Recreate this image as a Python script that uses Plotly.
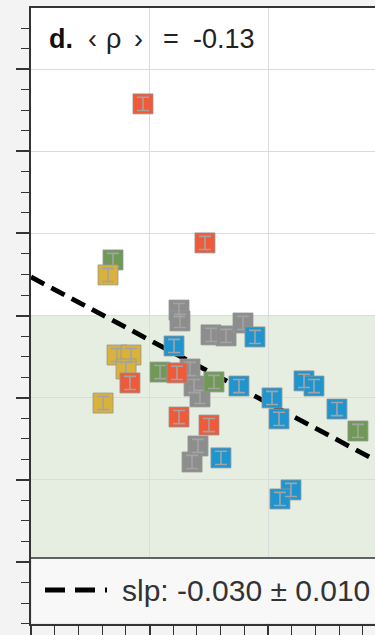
import plotly.graph_objects as go

# ---- data ----
red_x = [9.45, 14.68, 8.35, 12.32, 12.49, 15.02]
red_y = [2.231, 1.554, 0.872, 0.921, 0.706, 0.667]

green_x = [6.92, 10.89, 15.44, 27.59]
green_y = [1.471, 0.925, 0.877, 0.638]

yellow_x = [6.50, 7.26, 8.44, 8.02, 6.08]
yellow_y = [1.398, 1.008, 1.008, 0.940, 0.774]

gray_x = [12.49, 12.57, 15.19, 16.46, 17.89, 13.42, 13.76, 14.26, 14.09, 13.59]
gray_y = [1.227, 1.174, 1.106, 1.101, 1.164, 0.940, 0.857, 0.804, 0.565, 0.487]

blue_x = [18.90, 12.07, 17.55, 20.34, 20.93, 23.04, 23.88, 25.82, 16.03, 21.94, 21.01]
blue_y = [1.096, 1.052, 0.857, 0.799, 0.697, 0.882, 0.857, 0.745, 0.507, 0.351, 0.307]

err = 0.032  # half-height of the error bar drawn in each square

fit_x = [0.0, 29.03]
fit_y = [1.388, 0.497]

title_parts = ["<b>d.</b>", "‹", "ρ", "›", "=", "-0.13"]
title_pos = [0.046, 0.161, 0.213, 0.294, 0.378, 0.466]
legend_text = "slp: -0.030 ± 0.010"

x_range = [0, 29.03]
y_range = [-0.302, 2.698]
band_top = 1.2
legend_top = 0.0195

groups = [
    ("gray", gray_x, gray_y, "#8d8d8d"),
    ("green", green_x, green_y, "#6e9a56"),
    ("yellow", yellow_x, yellow_y, "#d8b23a"),
    ("red", red_x, red_y, "#ee5a3a"),
    ("blue", blue_x, blue_y, "#1f95d0"),
]

FONT = "Liberation Sans, Arial"

fig = go.Figure()

# regression line
fig.add_trace(go.Scatter(
    x=fit_x, y=fit_y, mode="lines",
    line=dict(color="black", width=4.8, dash="15px,8px"),
    showlegend=False, hoverinfo="skip"))

for name, xs, ys, col in groups:
    fig.add_trace(go.Scatter(
        x=xs, y=ys, mode="markers", name=name,
        marker=dict(symbol="square", size=20, color=col,
                    line=dict(color="rgba(150,150,150,0.8)", width=1)),
        showlegend=False))
    fig.add_trace(go.Scatter(
        x=xs, y=ys, mode="markers",
        marker=dict(size=1, opacity=0),
        error_y=dict(type="constant", value=err, color="#a3a3a3",
                     thickness=1.6, width=6),
        showlegend=False, hoverinfo="skip"))

# green band
fig.add_shape(type="rect", xref="x", yref="y", x0=x_range[0], x1=x_range[1],
              y0=y_range[0], y1=band_top, fillcolor="#e5eee1", line_width=0,
              layer="below")

# legend box
fig.add_shape(type="rect", xref="x", yref="y", x0=0.09, x1=x_range[1],
              y0=y_range[0] + 0.006, y1=legend_top, fillcolor="#f8f8f8",
              line_width=0, layer="above")
fig.add_shape(type="line", xref="x", yref="y", x0=0, x1=x_range[1],
              y0=legend_top, y1=legend_top, line=dict(color="#333333", width=1.5),
              layer="above")
fig.add_shape(type="line", xref="paper", yref="paper", x0=0.0407, x1=0.2209,
              y0=0.055, y1=0.055,
              line=dict(color="black", width=5, dash="20px,10px"),
              layer="above")
fig.add_annotation(xref="paper", yref="paper", x=0.259, y=0.055,
                   xanchor="left", yanchor="middle", showarrow=False,
                   text=legend_text,
                   font=dict(family=FONT, size=30, color="#333333"))

# title
for txt, xp in zip(title_parts, title_pos):
    fig.add_annotation(xref="paper", yref="paper", x=xp, y=0.950,
                       xanchor="left", yanchor="middle", showarrow=False,
                       text=txt,
                       font=dict(family=FONT, size=27,
                                 color="#111111" if txt.startswith("<b>") else "#222222"))

fig.update_xaxes(range=x_range, showgrid=True, gridcolor="#dcdcdc", gridwidth=1,
                 dtick=10, tick0=0, ticks="outside", ticklen=12, tickwidth=1.5,
                 tickcolor="#333333", showticklabels=False, zeroline=False,
                 showline=True, linecolor="#333333", linewidth=2, mirror=True,
                 minor=dict(dtick=2, ticks="outside", ticklen=12, tickwidth=1.2,
                            tickcolor="#333333", showgrid=False))
fig.update_yaxes(range=y_range, showgrid=True, gridcolor="#dcdcdc", gridwidth=1,
                 dtick=0.4, tick0=0, ticks="outside", ticklen=13, tickwidth=1.5,
                 tickcolor="#333333", showticklabels=False, zeroline=False,
                 showline=True, linecolor="#333333", linewidth=2, mirror=False,
                 minor=dict(dtick=0.1, ticks="outside", ticklen=8, tickwidth=1.2,
                            tickcolor="#333333", showgrid=False))

fig.update_layout(width=375, height=635,
                  margin=dict(l=31, r=0, t=8, b=11),
                  paper_bgcolor="#f3f3f3", plot_bgcolor="white",
                  showlegend=False)

fig.write_html("out.html",
               config={"displayModeBar": False},
               post_script="document.body.style.margin='0';document.body.style.background='#f3f3f3';")
